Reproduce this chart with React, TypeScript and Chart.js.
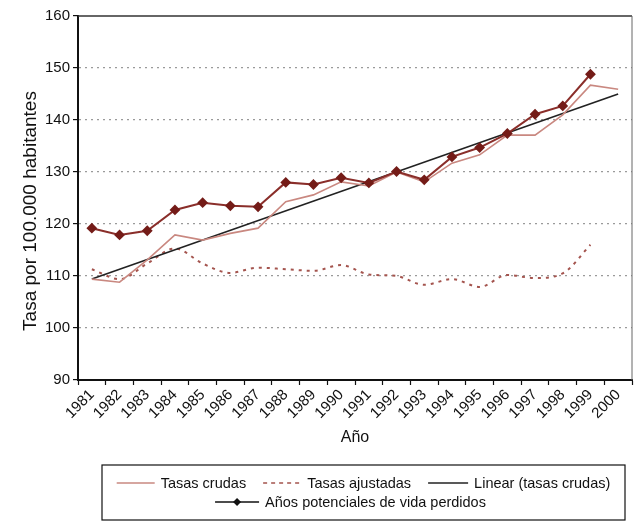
import React, { useEffect, useRef } from 'react';
import { Chart, registerables } from 'chart.js';

Chart.register(...registerables);

const years = ['1981', '1982', '1983', '1984', '1985', '1986', '1987', '1988', '1989', '1990', '1991', '1992', '1993', '1994', '1995', '1996', '1997', '1998', '1999', '2000'];

const tasasCrudas = [109.4, 108.8, 113.1, 117.9, 116.9, 118.2, 119.2, 124.3, 125.6, 128.1, 127.3, 130.0, 128.1, 131.7, 133.3, 137.1, 137.1, 141.0, 146.7, 145.9];

const tasasAjustadas = [111.3, 109.4, 112.4, 115.3, 112.4, 110.6, 111.6, 111.3, 111.0, 112.1, 110.3, 110.0, 108.3, 109.4, 107.9, 110.2, 109.6, 110.5, 116.0, null];

const linearCrudas = [109.4, null, null, null, null, null, null, null, null, null, null, null, null, null, null, null, null, null, null, 145.0];

const aniosPotenciales = [119.2, 117.9, 118.7, 122.7, 124.1, 123.5, 123.3, 128.0, 127.6, 128.9, 127.9, 130.1, 128.5, 132.9, 134.7, 137.4, 141.1, 142.7, 148.8, null];

const yTicks = [90, 100, 110, 120, 130, 140, 150, 160];

const Y_TITLE = 'Tasa por 100.000 habitantes';
const X_TITLE = 'Año';

const FONT = '"Liberation Sans", Arial, sans-serif';

const C_CRUDAS = '#c98880';
const C_AJUST = '#a4544e';
const C_LINEAR = '#222222';
const C_ANIOS = '#8a2e2a';
const C_ANIOS_PT = '#741c18';
const TEXT = '#111111';

export default function App() {
  const ref = useRef<HTMLCanvasElement>(null);

  useEffect(() => {
    if (!ref.current) return;

    const framePlugin = {
      id: 'frame',
      afterDatasetsDraw(chart: any) {
        const { ctx, chartArea: a } = chart;
        ctx.save();
        ctx.strokeStyle = '#333';
        ctx.lineWidth = 1.5;
        ctx.beginPath();
        ctx.moveTo(a.left, a.top);
        ctx.lineTo(a.right, a.top);
        ctx.stroke();
        ctx.strokeStyle = '#666';
        ctx.lineWidth = 1;
        ctx.beginPath();
        ctx.moveTo(a.right, a.top);
        ctx.lineTo(a.right, a.bottom);
        ctx.stroke();
        ctx.restore();
      },
    };

    const yTitlePlugin = {
      id: 'yTitle',
      afterDraw(chart: any) {
        const ctx = chart.ctx as CanvasRenderingContext2D;
        ctx.save();
        ctx.translate(31, 211);
        ctx.rotate(-Math.PI / 2);
        ctx.font = '19px ' + FONT;
        ctx.fillStyle = TEXT;
        ctx.textAlign = 'center';
        ctx.textBaseline = 'middle';
        ctx.fillText(Y_TITLE, 0, 0);
        ctx.restore();
      },
    };

    const legendPlugin = {
      id: 'boxLegend',
      afterDraw(chart: any) {
        const ctx = chart.ctx as CanvasRenderingContext2D;
        const box = { l: 102, t: 465, r: 625, b: 520 };
        ctx.save();
        ctx.strokeStyle = '#111';
        ctx.lineWidth = 1.2;
        ctx.strokeRect(box.l, box.t, box.r - box.l, box.b - box.t);
        ctx.font = '14.5px ' + FONT;
        ctx.fillStyle = TEXT;
        ctx.textBaseline = 'middle';
        ctx.textAlign = 'left';
        const cx = (box.l + box.r) / 2;
        const sampleGap = 6;
        const itemGap = 17;
        type Item = { text: string; len: number; kind: string };
        const row1: Item[] = [
          { text: 'Tasas crudas', len: 38, kind: 'crudas' },
          { text: 'Tasas ajustadas', len: 38, kind: 'ajust' },
          { text: 'Linear (tasas crudas)', len: 40, kind: 'linear' },
        ];
        const row2: Item[] = [{ text: 'Años potenciales de vida perdidos', len: 44, kind: 'anios' }];
        const drawRow = (items: Item[], y: number, shift: number) => {
          const widths = items.map((it) => it.len + sampleGap + ctx.measureText(it.text).width);
          const total = widths.reduce((s, w) => s + w, 0) + itemGap * (items.length - 1);
          let x = cx - total / 2 + shift;
          items.forEach((it, i) => {
            ctx.save();
            ctx.beginPath();
            if (it.kind === 'crudas') {
              ctx.strokeStyle = C_CRUDAS;
              ctx.lineWidth = 1.5;
            } else if (it.kind === 'ajust') {
              ctx.strokeStyle = C_AJUST;
              ctx.lineWidth = 1.5;
              ctx.setLineDash([4, 4]);
            } else if (it.kind === 'linear') {
              ctx.strokeStyle = C_LINEAR;
              ctx.lineWidth = 1.5;
            } else {
              ctx.strokeStyle = '#111';
              ctx.lineWidth = 1.5;
            }
            ctx.moveTo(x, y);
            ctx.lineTo(x + it.len, y);
            ctx.stroke();
            if (it.kind === 'anios') {
              const mx = x + it.len / 2;
              ctx.fillStyle = '#111';
              ctx.beginPath();
              ctx.moveTo(mx, y - 4);
              ctx.lineTo(mx + 4, y);
              ctx.lineTo(mx, y + 4);
              ctx.lineTo(mx - 4, y);
              ctx.closePath();
              ctx.fill();
            }
            ctx.restore();
            ctx.fillText(it.text, x + it.len + sampleGap, y + 1);
            x += widths[i] + itemGap;
          });
        };
        drawRow(row1, 483, 0);
        drawRow(row2, 502, -13);
        ctx.restore();
      },
    };

    const chart = new Chart(ref.current, {
      type: 'line',
      data: {
        labels: years,
        datasets: [
          {
            label: 'Años potenciales de vida perdidos',
            data: aniosPotenciales,
            borderColor: C_ANIOS,
            borderWidth: 2,
            pointStyle: 'rectRot',
            pointRadius: 4,
            pointBackgroundColor: C_ANIOS_PT,
            pointBorderColor: C_ANIOS_PT,
            tension: 0,
          },
          {
            label: 'Tasas crudas',
            data: tasasCrudas,
            borderColor: C_CRUDAS,
            borderWidth: 1.6,
            pointRadius: 0,
            tension: 0,
          },
          {
            label: 'Linear (tasas crudas)',
            data: linearCrudas,
            borderColor: C_LINEAR,
            borderWidth: 1.6,
            pointRadius: 0,
            spanGaps: true,
            tension: 0,
          },
          {
            label: 'Tasas ajustadas',
            data: tasasAjustadas,
            borderColor: C_AJUST,
            borderWidth: 2,
            borderDash: [3, 5],
            pointRadius: 0,
            tension: 0.4,
            cubicInterpolationMode: 'monotone',
          },
        ],
      },
      options: {
        responsive: false,
        animation: false,
        layout: { padding: { top: 16, right: 8, left: 0, bottom: 72 } },
        plugins: {
          legend: { display: false },
          tooltip: { enabled: false },
        },
        scales: {
          x: {
            type: 'category',
            offset: true,
            afterFit: (s: any) => {
              s.height = 70;
            },
            grid: {
              display: true,
              offset: true,
              drawOnChartArea: false,
              drawTicks: true,
              tickLength: 5,
              tickColor: '#111',
              tickWidth: 1.2,
            },
            border: { display: true, color: '#111', width: 2 },
            ticks: {
              autoSkip: false,
              maxRotation: 45,
              minRotation: 45,
              padding: 1,
              color: TEXT,
              font: { family: FONT, size: 15 },
            },
            title: {
              display: true,
              text: X_TITLE,
              color: TEXT,
              font: { family: FONT, size: 16 },
              padding: { top: 0, bottom: 3 },
            },
          },
          y: {
            min: 90,
            max: 160,
            afterFit: (s: any) => {
              s.width = 78;
            },
            afterBuildTicks: (s: any) => {
              s.ticks = yTicks.map((v) => ({ value: v }));
            },
            grid: {
              display: true,
              color: (c: any) => (c.tick && (c.tick.value === 90 || c.tick.value === 160) ? 'rgba(0,0,0,0)' : '#9a9a9a'),
              lineWidth: 1.2,
              drawTicks: true,
              tickLength: 5,
              tickColor: '#111',
              tickWidth: 1.2,
            },
            border: { display: true, color: '#111', width: 2, dash: [2, 4] },
            ticks: {
              padding: 3,
              color: TEXT,
              font: { family: FONT, size: 15 },
            },
            title: { display: false },
          },
        },
      },
      plugins: [framePlugin, yTitlePlugin, legendPlugin],
    });

    return () => chart.destroy();
  }, []);

  return (
    <div style={{ position: 'absolute', left: 0, top: 0, width: 640, height: 522, background: '#fff' }}>
      <canvas ref={ref} width={640} height={522} style={{ display: 'block' }} />
    </div>
  );
}
